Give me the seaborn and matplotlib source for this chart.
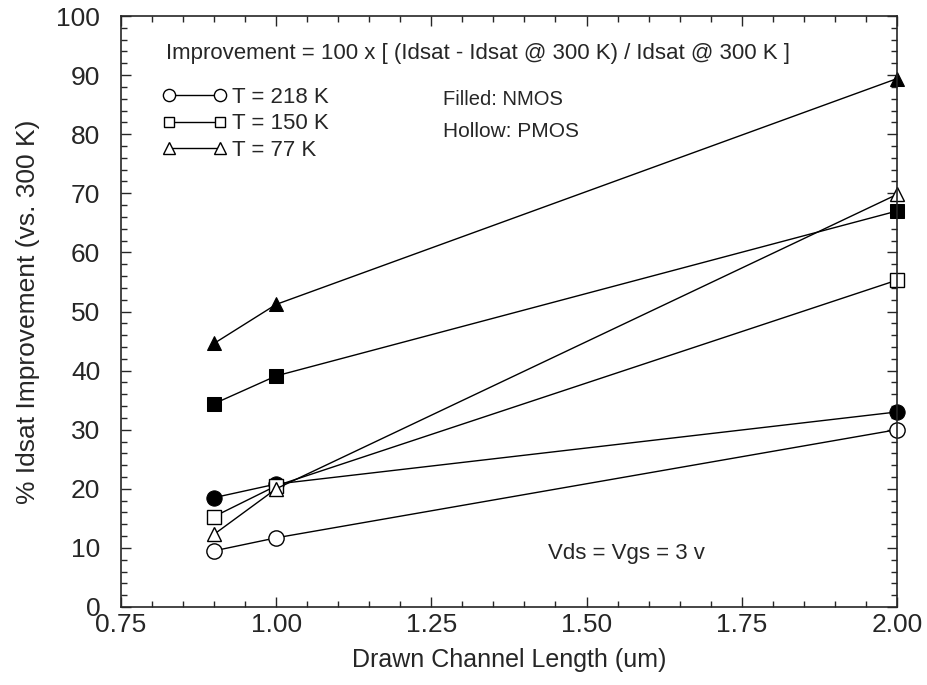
import matplotlib
matplotlib.use("Agg")
import matplotlib.pyplot as plt
from matplotlib.lines import Line2D
from matplotlib.ticker import MultipleLocator, FormatStrFormatter
import seaborn as sns
import pandas as pd

sns.set_style("ticks")
plt.rcParams['font.family'] = ['Liberation Sans', 'DejaVu Sans']

lengths = [0.9, 1.0, 2.0]
temps = ["T = 218 K", "T = 150 K", "T = 77 K"]
markers = ["o", "s", "^"]
nmos = {
    "T = 218 K": [18.5, 20.8, 33.0],
    "T = 150 K": [34.4, 39.1, 67.0],
    "T = 77 K": [44.6, 51.2, 89.4],
}
pmos = {
    "T = 218 K": [9.5, 11.7, 30.0],
    "T = 150 K": [15.3, 20.5, 55.3],
    "T = 77 K": [12.3, 20.0, 69.8],
}
msize = {"o": 11, "s": 9.5, "^": 10.5}

fig = plt.figure(figsize=(9.27, 6.85), dpi=100)
ax = fig.add_axes([0.1305, 0.1139, 0.837, 0.8627])

for t, m in zip(temps, markers):
    df_p = pd.DataFrame({"x": lengths, "y": pmos[t]})
    sns.lineplot(data=df_p, x="x", y="y", ax=ax, color="black", lw=1,
                 marker=m, markersize=msize[m], markerfacecolor="white",
                 markeredgecolor="black", markeredgewidth=1, clip_on=False)
    df_n = pd.DataFrame({"x": lengths, "y": nmos[t]})
    sns.lineplot(data=df_n, x="x", y="y", ax=ax, color="black", lw=1,
                 marker=m, markersize=msize[m], markerfacecolor="black",
                 markeredgecolor="black", clip_on=False)

ax.set_xlim(0.75, 2.0)
ax.set_ylim(0, 100)
ax.xaxis.set_major_locator(MultipleLocator(0.25))
ax.xaxis.set_minor_locator(MultipleLocator(0.05))
ax.yaxis.set_major_locator(MultipleLocator(10))
ax.yaxis.set_minor_locator(MultipleLocator(2))
ax.xaxis.set_major_formatter(FormatStrFormatter("%.2f"))
ax.tick_params(which="both", direction="in", top=True, right=True, labelsize=19)
ax.tick_params(which="major", length=7, width=1)
ax.tick_params(which="minor", length=4, width=1)
ax.tick_params(axis="y", which="major", pad=15)
ax.tick_params(axis="x", which="major", pad=4)
for s in ax.spines.values():
    s.set_linewidth(1.2)
ax.set_xlabel("Drawn Channel Length (um)", fontsize=18, labelpad=8)
ax.set_ylabel("% Idsat Improvement (vs. 300 K)", fontsize=19, labelpad=12)

handles = [Line2D([0], [0], color="black", lw=1, marker=m, markersize=msize[m] * 0.8,
                  markerfacecolor="white", markeredgecolor="black") for m in markers]
ax.legend(handles, temps, loc="upper left", bbox_to_anchor=(0.053, 0.88), frameon=False,
          numpoints=2, handlelength=2.9, fontsize=16, labelspacing=0.25, handletextpad=0.25,
          borderaxespad=0, borderpad=0)

ax.text(0.46, 0.937, "Improvement = 100 x [ (Idsat - Idsat @ 300 K) / Idsat @ 300 K ]",
        transform=ax.transAxes, ha="center", va="center", fontsize=16)
ax.text(0.415, 0.858, "Filled: NMOS", transform=ax.transAxes, ha="left", va="center", fontsize=14.5)
ax.text(0.415, 0.805, "Hollow: PMOS", transform=ax.transAxes, ha="left", va="center", fontsize=15)
ax.text(0.55, 0.091, "Vds = Vgs = 3 v", transform=ax.transAxes, ha="left", va="center", fontsize=16)

fig.savefig("out.png", dpi=100)
